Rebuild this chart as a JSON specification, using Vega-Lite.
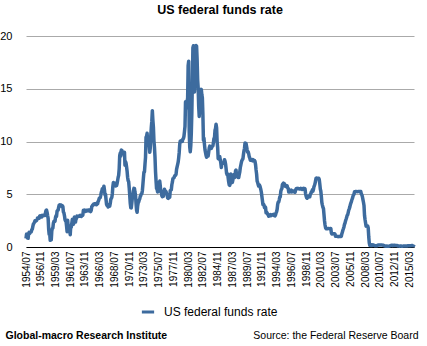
{
"$schema": "https://vega.github.io/schema/vega-lite/v6.json",
"width": 388, "height": 211,
"autosize": {"type": "none"},
"padding": {"left": 26, "top": 36, "right": 13, "bottom": 99},
"background": "white",
"config": {"font": "Liberation Sans", "view": {"stroke": null}},
"title": {"text": "US federal funds rate", "fontSize": 12.5, "fontWeight": "bold", "color": "#000", "anchor": "middle", "offset": 14},
"data": {"values": [
{"d":"1954-07-01","v":0.80},{"d":"1954-08-01","v":1.22},{"d":"1954-09-01","v":1.07},{"d":"1954-10-01","v":0.85},{"d":"1954-11-01","v":0.83},{"d":"1954-12-01","v":1.28},
{"d":"1955-01-01","v":1.39},{"d":"1955-02-01","v":1.29},{"d":"1955-03-01","v":1.35},{"d":"1955-04-01","v":1.43},{"d":"1955-05-01","v":1.43},{"d":"1955-06-01","v":1.64},{"d":"1955-07-01","v":1.68},{"d":"1955-08-01","v":1.96},{"d":"1955-09-01","v":2.18},{"d":"1955-10-01","v":2.24},{"d":"1955-11-01","v":2.35},{"d":"1955-12-01","v":2.48},
{"d":"1956-01-01","v":2.45},{"d":"1956-02-01","v":2.50},{"d":"1956-03-01","v":2.50},{"d":"1956-04-01","v":2.62},{"d":"1956-05-01","v":2.75},{"d":"1956-06-01","v":2.71},{"d":"1956-07-01","v":2.75},{"d":"1956-08-01","v":2.73},{"d":"1956-09-01","v":2.95},{"d":"1956-10-01","v":2.96},{"d":"1956-11-01","v":2.88},{"d":"1956-12-01","v":2.94},
{"d":"1957-01-01","v":2.84},{"d":"1957-02-01","v":3.00},{"d":"1957-03-01","v":2.96},{"d":"1957-04-01","v":3.00},{"d":"1957-05-01","v":3.00},{"d":"1957-06-01","v":3.00},{"d":"1957-07-01","v":2.99},{"d":"1957-08-01","v":3.24},{"d":"1957-09-01","v":3.47},{"d":"1957-10-01","v":3.50},{"d":"1957-11-01","v":3.28},{"d":"1957-12-01","v":2.98},
{"d":"1958-01-01","v":2.72},{"d":"1958-02-01","v":1.67},{"d":"1958-03-01","v":1.20},{"d":"1958-04-01","v":1.26},{"d":"1958-05-01","v":0.63},{"d":"1958-06-01","v":0.93},{"d":"1958-07-01","v":0.68},{"d":"1958-08-01","v":1.53},{"d":"1958-09-01","v":1.76},{"d":"1958-10-01","v":1.80},{"d":"1958-11-01","v":2.27},{"d":"1958-12-01","v":2.42},
{"d":"1959-01-01","v":2.48},{"d":"1959-02-01","v":2.43},{"d":"1959-03-01","v":2.80},{"d":"1959-04-01","v":2.96},{"d":"1959-05-01","v":2.90},{"d":"1959-06-01","v":3.39},{"d":"1959-07-01","v":3.47},{"d":"1959-08-01","v":3.50},{"d":"1959-09-01","v":3.76},{"d":"1959-10-01","v":3.98},{"d":"1959-11-01","v":4.00},{"d":"1959-12-01","v":3.99},
{"d":"1960-01-01","v":3.99},{"d":"1960-02-01","v":3.97},{"d":"1960-03-01","v":3.84},{"d":"1960-04-01","v":3.92},{"d":"1960-05-01","v":3.85},{"d":"1960-06-01","v":3.32},{"d":"1960-07-01","v":3.23},{"d":"1960-08-01","v":2.98},{"d":"1960-09-01","v":2.60},{"d":"1960-10-01","v":2.47},{"d":"1960-11-01","v":2.44},{"d":"1960-12-01","v":1.98},
{"d":"1961-01-01","v":1.45},{"d":"1961-02-01","v":2.54},{"d":"1961-03-01","v":2.02},{"d":"1961-04-01","v":1.49},{"d":"1961-05-01","v":1.98},{"d":"1961-06-01","v":1.73},{"d":"1961-07-01","v":1.17},{"d":"1961-08-01","v":2.00},{"d":"1961-09-01","v":1.88},{"d":"1961-10-01","v":2.26},{"d":"1961-11-01","v":2.62},{"d":"1961-12-01","v":2.33},
{"d":"1962-01-01","v":2.15},{"d":"1962-02-01","v":2.37},{"d":"1962-03-01","v":2.85},{"d":"1962-04-01","v":2.78},{"d":"1962-05-01","v":2.36},{"d":"1962-06-01","v":2.68},{"d":"1962-07-01","v":2.71},{"d":"1962-08-01","v":2.93},{"d":"1962-09-01","v":2.90},{"d":"1962-10-01","v":2.90},{"d":"1962-11-01","v":2.94},{"d":"1962-12-01","v":2.93},
{"d":"1963-01-01","v":2.92},{"d":"1963-02-01","v":3.00},{"d":"1963-03-01","v":2.98},{"d":"1963-04-01","v":2.90},{"d":"1963-05-01","v":3.00},{"d":"1963-06-01","v":2.99},{"d":"1963-07-01","v":3.02},{"d":"1963-08-01","v":3.49},{"d":"1963-09-01","v":3.48},{"d":"1963-10-01","v":3.50},{"d":"1963-11-01","v":3.48},{"d":"1963-12-01","v":3.38},
{"d":"1964-01-01","v":3.48},{"d":"1964-02-01","v":3.48},{"d":"1964-03-01","v":3.43},{"d":"1964-04-01","v":3.47},{"d":"1964-05-01","v":3.50},{"d":"1964-06-01","v":3.50},{"d":"1964-07-01","v":3.42},{"d":"1964-08-01","v":3.50},{"d":"1964-09-01","v":3.45},{"d":"1964-10-01","v":3.36},{"d":"1964-11-01","v":3.52},{"d":"1964-12-01","v":3.85},
{"d":"1965-01-01","v":3.90},{"d":"1965-02-01","v":3.98},{"d":"1965-03-01","v":4.04},{"d":"1965-04-01","v":4.09},{"d":"1965-05-01","v":4.10},{"d":"1965-06-01","v":4.04},{"d":"1965-07-01","v":4.09},{"d":"1965-08-01","v":4.12},{"d":"1965-09-01","v":4.01},{"d":"1965-10-01","v":4.08},{"d":"1965-11-01","v":4.10},{"d":"1965-12-01","v":4.32},
{"d":"1966-01-01","v":4.42},{"d":"1966-02-01","v":4.60},{"d":"1966-03-01","v":4.65},{"d":"1966-04-01","v":4.67},{"d":"1966-05-01","v":4.90},{"d":"1966-06-01","v":5.17},{"d":"1966-07-01","v":5.30},{"d":"1966-08-01","v":5.53},{"d":"1966-09-01","v":5.40},{"d":"1966-10-01","v":5.53},{"d":"1966-11-01","v":5.76},{"d":"1966-12-01","v":5.40},
{"d":"1967-01-01","v":4.94},{"d":"1967-02-01","v":5.00},{"d":"1967-03-01","v":4.53},{"d":"1967-04-01","v":4.05},{"d":"1967-05-01","v":3.94},{"d":"1967-06-01","v":3.98},{"d":"1967-07-01","v":3.79},{"d":"1967-08-01","v":3.90},{"d":"1967-09-01","v":3.99},{"d":"1967-10-01","v":3.88},{"d":"1967-11-01","v":4.13},{"d":"1967-12-01","v":4.51},
{"d":"1968-01-01","v":4.60},{"d":"1968-02-01","v":4.71},{"d":"1968-03-01","v":5.05},{"d":"1968-04-01","v":5.76},{"d":"1968-05-01","v":6.11},{"d":"1968-06-01","v":6.07},{"d":"1968-07-01","v":6.02},{"d":"1968-08-01","v":6.03},{"d":"1968-09-01","v":5.78},{"d":"1968-10-01","v":5.91},{"d":"1968-11-01","v":5.82},{"d":"1968-12-01","v":6.02},
{"d":"1969-01-01","v":6.30},{"d":"1969-02-01","v":6.61},{"d":"1969-03-01","v":6.79},{"d":"1969-04-01","v":7.41},{"d":"1969-05-01","v":8.67},{"d":"1969-06-01","v":8.90},{"d":"1969-07-01","v":8.61},{"d":"1969-08-01","v":9.19},{"d":"1969-09-01","v":9.15},{"d":"1969-10-01","v":9.00},{"d":"1969-11-01","v":8.85},{"d":"1969-12-01","v":8.97},
{"d":"1970-01-01","v":8.98},{"d":"1970-02-01","v":8.98},{"d":"1970-03-01","v":7.76},{"d":"1970-04-01","v":8.10},{"d":"1970-05-01","v":7.95},{"d":"1970-06-01","v":7.61},{"d":"1970-07-01","v":7.21},{"d":"1970-08-01","v":6.61},{"d":"1970-09-01","v":6.29},{"d":"1970-10-01","v":6.20},{"d":"1970-11-01","v":5.60},{"d":"1970-12-01","v":4.90},
{"d":"1971-01-01","v":4.14},{"d":"1971-02-01","v":3.72},{"d":"1971-03-01","v":3.71},{"d":"1971-04-01","v":4.16},{"d":"1971-05-01","v":4.63},{"d":"1971-06-01","v":4.91},{"d":"1971-07-01","v":5.31},{"d":"1971-08-01","v":5.56},{"d":"1971-09-01","v":5.55},{"d":"1971-10-01","v":5.20},{"d":"1971-11-01","v":4.91},{"d":"1971-12-01","v":4.14},
{"d":"1972-01-01","v":3.50},{"d":"1972-02-01","v":3.29},{"d":"1972-03-01","v":3.83},{"d":"1972-04-01","v":4.17},{"d":"1972-05-01","v":4.27},{"d":"1972-06-01","v":4.46},{"d":"1972-07-01","v":4.55},{"d":"1972-08-01","v":4.80},{"d":"1972-09-01","v":4.87},{"d":"1972-10-01","v":5.04},{"d":"1972-11-01","v":5.06},{"d":"1972-12-01","v":5.33},
{"d":"1973-01-01","v":5.94},{"d":"1973-02-01","v":6.58},{"d":"1973-03-01","v":7.09},{"d":"1973-04-01","v":7.12},{"d":"1973-05-01","v":7.84},{"d":"1973-06-01","v":8.49},{"d":"1973-07-01","v":10.40},{"d":"1973-08-01","v":10.50},{"d":"1973-09-01","v":10.78},{"d":"1973-10-01","v":10.01},{"d":"1973-11-01","v":10.03},{"d":"1973-12-01","v":9.95},
{"d":"1974-01-01","v":9.65},{"d":"1974-02-01","v":8.97},{"d":"1974-03-01","v":9.35},{"d":"1974-04-01","v":10.51},{"d":"1974-05-01","v":11.31},{"d":"1974-06-01","v":11.93},{"d":"1974-07-01","v":12.92},{"d":"1974-08-01","v":12.01},{"d":"1974-09-01","v":11.34},{"d":"1974-10-01","v":10.06},{"d":"1974-11-01","v":9.45},{"d":"1974-12-01","v":8.53},
{"d":"1975-01-01","v":7.13},{"d":"1975-02-01","v":6.24},{"d":"1975-03-01","v":5.54},{"d":"1975-04-01","v":5.49},{"d":"1975-05-01","v":5.22},{"d":"1975-06-01","v":5.55},{"d":"1975-07-01","v":6.10},{"d":"1975-08-01","v":6.14},{"d":"1975-09-01","v":6.24},{"d":"1975-10-01","v":5.82},{"d":"1975-11-01","v":5.22},{"d":"1975-12-01","v":5.20},
{"d":"1976-01-01","v":4.87},{"d":"1976-02-01","v":4.77},{"d":"1976-03-01","v":4.84},{"d":"1976-04-01","v":4.82},{"d":"1976-05-01","v":5.29},{"d":"1976-06-01","v":5.48},{"d":"1976-07-01","v":5.31},{"d":"1976-08-01","v":5.29},{"d":"1976-09-01","v":5.25},{"d":"1976-10-01","v":5.03},{"d":"1976-11-01","v":4.95},{"d":"1976-12-01","v":4.65},
{"d":"1977-01-01","v":4.61},{"d":"1977-02-01","v":4.68},{"d":"1977-03-01","v":4.69},{"d":"1977-04-01","v":4.73},{"d":"1977-05-01","v":5.35},{"d":"1977-06-01","v":5.39},{"d":"1977-07-01","v":5.42},{"d":"1977-08-01","v":5.90},{"d":"1977-09-01","v":6.14},{"d":"1977-10-01","v":6.47},{"d":"1977-11-01","v":6.51},{"d":"1977-12-01","v":6.56},
{"d":"1978-01-01","v":6.70},{"d":"1978-02-01","v":6.78},{"d":"1978-03-01","v":6.79},{"d":"1978-04-01","v":6.89},{"d":"1978-05-01","v":7.36},{"d":"1978-06-01","v":7.60},{"d":"1978-07-01","v":7.81},{"d":"1978-08-01","v":8.04},{"d":"1978-09-01","v":8.45},{"d":"1978-10-01","v":8.96},{"d":"1978-11-01","v":9.76},{"d":"1978-12-01","v":10.03},
{"d":"1979-01-01","v":10.07},{"d":"1979-02-01","v":10.06},{"d":"1979-03-01","v":10.09},{"d":"1979-04-01","v":10.01},{"d":"1979-05-01","v":10.24},{"d":"1979-06-01","v":10.29},{"d":"1979-07-01","v":10.47},{"d":"1979-08-01","v":10.94},{"d":"1979-09-01","v":11.43},{"d":"1979-10-01","v":13.77},{"d":"1979-11-01","v":13.18},{"d":"1979-12-01","v":13.78},
{"d":"1980-01-01","v":13.82},{"d":"1980-02-01","v":14.13},{"d":"1980-03-01","v":17.19},{"d":"1980-04-01","v":17.61},{"d":"1980-05-01","v":10.98},{"d":"1980-06-01","v":9.47},{"d":"1980-07-01","v":9.03},{"d":"1980-08-01","v":9.61},{"d":"1980-09-01","v":10.87},{"d":"1980-10-01","v":12.81},{"d":"1980-11-01","v":15.85},{"d":"1980-12-01","v":18.90},
{"d":"1981-01-01","v":19.08},{"d":"1981-02-01","v":15.93},{"d":"1981-03-01","v":14.70},{"d":"1981-04-01","v":15.72},{"d":"1981-05-01","v":18.52},{"d":"1981-06-01","v":19.10},{"d":"1981-07-01","v":19.04},{"d":"1981-08-01","v":17.82},{"d":"1981-09-01","v":15.87},{"d":"1981-10-01","v":15.08},{"d":"1981-11-01","v":13.31},{"d":"1981-12-01","v":12.37},
{"d":"1982-01-01","v":13.22},{"d":"1982-02-01","v":14.78},{"d":"1982-03-01","v":14.68},{"d":"1982-04-01","v":14.94},{"d":"1982-05-01","v":14.45},{"d":"1982-06-01","v":14.15},{"d":"1982-07-01","v":12.59},{"d":"1982-08-01","v":10.12},{"d":"1982-09-01","v":10.31},{"d":"1982-10-01","v":9.71},{"d":"1982-11-01","v":9.20},{"d":"1982-12-01","v":8.95},
{"d":"1983-01-01","v":8.68},{"d":"1983-02-01","v":8.51},{"d":"1983-03-01","v":8.77},{"d":"1983-04-01","v":8.80},{"d":"1983-05-01","v":8.63},{"d":"1983-06-01","v":8.98},{"d":"1983-07-01","v":9.37},{"d":"1983-08-01","v":9.56},{"d":"1983-09-01","v":9.45},{"d":"1983-10-01","v":9.48},{"d":"1983-11-01","v":9.34},{"d":"1983-12-01","v":9.47},
{"d":"1984-01-01","v":9.56},{"d":"1984-02-01","v":9.59},{"d":"1984-03-01","v":9.91},{"d":"1984-04-01","v":10.29},{"d":"1984-05-01","v":10.32},{"d":"1984-06-01","v":11.06},{"d":"1984-07-01","v":11.23},{"d":"1984-08-01","v":11.64},{"d":"1984-09-01","v":11.30},{"d":"1984-10-01","v":9.99},{"d":"1984-11-01","v":9.43},{"d":"1984-12-01","v":8.38},
{"d":"1985-01-01","v":8.35},{"d":"1985-02-01","v":8.50},{"d":"1985-03-01","v":8.58},{"d":"1985-04-01","v":8.27},{"d":"1985-05-01","v":7.97},{"d":"1985-06-01","v":7.53},{"d":"1985-07-01","v":7.88},{"d":"1985-08-01","v":7.90},{"d":"1985-09-01","v":7.92},{"d":"1985-10-01","v":7.99},{"d":"1985-11-01","v":8.05},{"d":"1985-12-01","v":8.27},
{"d":"1986-01-01","v":8.14},{"d":"1986-02-01","v":7.86},{"d":"1986-03-01","v":7.48},{"d":"1986-04-01","v":6.99},{"d":"1986-05-01","v":6.85},{"d":"1986-06-01","v":6.92},{"d":"1986-07-01","v":6.56},{"d":"1986-08-01","v":6.17},{"d":"1986-09-01","v":5.89},{"d":"1986-10-01","v":5.85},{"d":"1986-11-01","v":6.04},{"d":"1986-12-01","v":6.91},
{"d":"1987-01-01","v":6.43},{"d":"1987-02-01","v":6.10},{"d":"1987-03-01","v":6.13},{"d":"1987-04-01","v":6.37},{"d":"1987-05-01","v":6.85},{"d":"1987-06-01","v":6.73},{"d":"1987-07-01","v":6.58},{"d":"1987-08-01","v":6.73},{"d":"1987-09-01","v":7.22},{"d":"1987-10-01","v":7.29},{"d":"1987-11-01","v":6.69},{"d":"1987-12-01","v":6.77},
{"d":"1988-01-01","v":6.83},{"d":"1988-02-01","v":6.58},{"d":"1988-03-01","v":6.58},{"d":"1988-04-01","v":6.87},{"d":"1988-05-01","v":7.09},{"d":"1988-06-01","v":7.51},{"d":"1988-07-01","v":7.75},{"d":"1988-08-01","v":8.01},{"d":"1988-09-01","v":8.19},{"d":"1988-10-01","v":8.30},{"d":"1988-11-01","v":8.35},{"d":"1988-12-01","v":8.76},
{"d":"1989-01-01","v":9.12},{"d":"1989-02-01","v":9.36},{"d":"1989-03-01","v":9.85},{"d":"1989-04-01","v":9.84},{"d":"1989-05-01","v":9.81},{"d":"1989-06-01","v":9.53},{"d":"1989-07-01","v":9.24},{"d":"1989-08-01","v":8.99},{"d":"1989-09-01","v":9.02},{"d":"1989-10-01","v":8.84},{"d":"1989-11-01","v":8.55},{"d":"1989-12-01","v":8.45},
{"d":"1990-01-01","v":8.23},{"d":"1990-02-01","v":8.24},{"d":"1990-03-01","v":8.28},{"d":"1990-04-01","v":8.26},{"d":"1990-05-01","v":8.18},{"d":"1990-06-01","v":8.29},{"d":"1990-07-01","v":8.15},{"d":"1990-08-01","v":8.13},{"d":"1990-09-01","v":8.20},{"d":"1990-10-01","v":8.11},{"d":"1990-11-01","v":7.81},{"d":"1990-12-01","v":7.31},
{"d":"1991-01-01","v":6.91},{"d":"1991-02-01","v":6.25},{"d":"1991-03-01","v":6.12},{"d":"1991-04-01","v":5.91},{"d":"1991-05-01","v":5.78},{"d":"1991-06-01","v":5.90},{"d":"1991-07-01","v":5.82},{"d":"1991-08-01","v":5.66},{"d":"1991-09-01","v":5.45},{"d":"1991-10-01","v":5.21},{"d":"1991-11-01","v":4.81},{"d":"1991-12-01","v":4.43},
{"d":"1992-01-01","v":4.03},{"d":"1992-02-01","v":4.06},{"d":"1992-03-01","v":3.98},{"d":"1992-04-01","v":3.73},{"d":"1992-05-01","v":3.82},{"d":"1992-06-01","v":3.76},{"d":"1992-07-01","v":3.25},{"d":"1992-08-01","v":3.30},{"d":"1992-09-01","v":3.22},{"d":"1992-10-01","v":3.10},{"d":"1992-11-01","v":3.09},{"d":"1992-12-01","v":2.92},
{"d":"1993-01-01","v":3.02},{"d":"1993-02-01","v":3.03},{"d":"1993-03-01","v":3.07},{"d":"1993-04-01","v":2.96},{"d":"1993-05-01","v":3.00},{"d":"1993-06-01","v":3.04},{"d":"1993-07-01","v":3.06},{"d":"1993-08-01","v":3.03},{"d":"1993-09-01","v":3.09},{"d":"1993-10-01","v":2.99},{"d":"1993-11-01","v":3.02},{"d":"1993-12-01","v":2.96},
{"d":"1994-01-01","v":3.05},{"d":"1994-02-01","v":3.25},{"d":"1994-03-01","v":3.34},{"d":"1994-04-01","v":3.56},{"d":"1994-05-01","v":4.01},{"d":"1994-06-01","v":4.25},{"d":"1994-07-01","v":4.26},{"d":"1994-08-01","v":4.47},{"d":"1994-09-01","v":4.73},{"d":"1994-10-01","v":4.76},{"d":"1994-11-01","v":5.29},{"d":"1994-12-01","v":5.45},
{"d":"1995-01-01","v":5.53},{"d":"1995-02-01","v":5.92},{"d":"1995-03-01","v":5.98},{"d":"1995-04-01","v":6.05},{"d":"1995-05-01","v":6.01},{"d":"1995-06-01","v":6.00},{"d":"1995-07-01","v":5.85},{"d":"1995-08-01","v":5.74},{"d":"1995-09-01","v":5.80},{"d":"1995-10-01","v":5.76},{"d":"1995-11-01","v":5.80},{"d":"1995-12-01","v":5.60},
{"d":"1996-01-01","v":5.56},{"d":"1996-02-01","v":5.22},{"d":"1996-03-01","v":5.31},{"d":"1996-04-01","v":5.22},{"d":"1996-05-01","v":5.24},{"d":"1996-06-01","v":5.27},{"d":"1996-07-01","v":5.40},{"d":"1996-08-01","v":5.22},{"d":"1996-09-01","v":5.30},{"d":"1996-10-01","v":5.24},{"d":"1996-11-01","v":5.31},{"d":"1996-12-01","v":5.29},
{"d":"1997-01-01","v":5.25},{"d":"1997-02-01","v":5.19},{"d":"1997-03-01","v":5.39},{"d":"1997-04-01","v":5.51},{"d":"1997-05-01","v":5.50},{"d":"1997-06-01","v":5.56},{"d":"1997-07-01","v":5.52},{"d":"1997-08-01","v":5.54},{"d":"1997-09-01","v":5.54},{"d":"1997-10-01","v":5.50},{"d":"1997-11-01","v":5.52},{"d":"1997-12-01","v":5.50},
{"d":"1998-01-01","v":5.56},{"d":"1998-02-01","v":5.51},{"d":"1998-03-01","v":5.49},{"d":"1998-04-01","v":5.45},{"d":"1998-05-01","v":5.49},{"d":"1998-06-01","v":5.56},{"d":"1998-07-01","v":5.54},{"d":"1998-08-01","v":5.55},{"d":"1998-09-01","v":5.51},{"d":"1998-10-01","v":5.07},{"d":"1998-11-01","v":4.83},{"d":"1998-12-01","v":4.68},
{"d":"1999-01-01","v":4.63},{"d":"1999-02-01","v":4.76},{"d":"1999-03-01","v":4.81},{"d":"1999-04-01","v":4.74},{"d":"1999-05-01","v":4.74},{"d":"1999-06-01","v":4.76},{"d":"1999-07-01","v":4.99},{"d":"1999-08-01","v":5.07},{"d":"1999-09-01","v":5.22},{"d":"1999-10-01","v":5.20},{"d":"1999-11-01","v":5.42},{"d":"1999-12-01","v":5.30},
{"d":"2000-01-01","v":5.45},{"d":"2000-02-01","v":5.73},{"d":"2000-03-01","v":5.85},{"d":"2000-04-01","v":6.02},{"d":"2000-05-01","v":6.27},{"d":"2000-06-01","v":6.53},{"d":"2000-07-01","v":6.54},{"d":"2000-08-01","v":6.50},{"d":"2000-09-01","v":6.52},{"d":"2000-10-01","v":6.51},{"d":"2000-11-01","v":6.51},{"d":"2000-12-01","v":6.40},
{"d":"2001-01-01","v":5.98},{"d":"2001-02-01","v":5.49},{"d":"2001-03-01","v":5.31},{"d":"2001-04-01","v":4.80},{"d":"2001-05-01","v":4.21},{"d":"2001-06-01","v":3.97},{"d":"2001-07-01","v":3.77},{"d":"2001-08-01","v":3.65},{"d":"2001-09-01","v":3.07},{"d":"2001-10-01","v":2.49},{"d":"2001-11-01","v":2.09},{"d":"2001-12-01","v":1.82},
{"d":"2002-01-01","v":1.73},{"d":"2002-02-01","v":1.74},{"d":"2002-03-01","v":1.73},{"d":"2002-04-01","v":1.75},{"d":"2002-05-01","v":1.75},{"d":"2002-06-01","v":1.75},{"d":"2002-07-01","v":1.73},{"d":"2002-08-01","v":1.74},{"d":"2002-09-01","v":1.75},{"d":"2002-10-01","v":1.75},{"d":"2002-11-01","v":1.34},{"d":"2002-12-01","v":1.24},
{"d":"2003-01-01","v":1.24},{"d":"2003-02-01","v":1.26},{"d":"2003-03-01","v":1.25},{"d":"2003-04-01","v":1.26},{"d":"2003-05-01","v":1.26},{"d":"2003-06-01","v":1.22},{"d":"2003-07-01","v":1.01},{"d":"2003-08-01","v":1.03},{"d":"2003-09-01","v":1.01},{"d":"2003-10-01","v":1.01},{"d":"2003-11-01","v":1.00},{"d":"2003-12-01","v":0.98},
{"d":"2004-01-01","v":1.00},{"d":"2004-02-01","v":1.01},{"d":"2004-03-01","v":1.00},{"d":"2004-04-01","v":1.00},{"d":"2004-05-01","v":1.00},{"d":"2004-06-01","v":1.03},{"d":"2004-07-01","v":1.26},{"d":"2004-08-01","v":1.43},{"d":"2004-09-01","v":1.61},{"d":"2004-10-01","v":1.76},{"d":"2004-11-01","v":1.93},{"d":"2004-12-01","v":2.16},
{"d":"2005-01-01","v":2.28},{"d":"2005-02-01","v":2.50},{"d":"2005-03-01","v":2.63},{"d":"2005-04-01","v":2.79},{"d":"2005-05-01","v":3.00},{"d":"2005-06-01","v":3.04},{"d":"2005-07-01","v":3.26},{"d":"2005-08-01","v":3.50},{"d":"2005-09-01","v":3.62},{"d":"2005-10-01","v":3.78},{"d":"2005-11-01","v":4.00},{"d":"2005-12-01","v":4.16},
{"d":"2006-01-01","v":4.29},{"d":"2006-02-01","v":4.49},{"d":"2006-03-01","v":4.59},{"d":"2006-04-01","v":4.79},{"d":"2006-05-01","v":4.94},{"d":"2006-06-01","v":4.99},{"d":"2006-07-01","v":5.24},{"d":"2006-08-01","v":5.25},{"d":"2006-09-01","v":5.25},{"d":"2006-10-01","v":5.25},{"d":"2006-11-01","v":5.25},{"d":"2006-12-01","v":5.24},
{"d":"2007-01-01","v":5.25},{"d":"2007-02-01","v":5.26},{"d":"2007-03-01","v":5.26},{"d":"2007-04-01","v":5.25},{"d":"2007-05-01","v":5.25},{"d":"2007-06-01","v":5.25},{"d":"2007-07-01","v":5.26},{"d":"2007-08-01","v":5.02},{"d":"2007-09-01","v":4.94},{"d":"2007-10-01","v":4.76},{"d":"2007-11-01","v":4.49},{"d":"2007-12-01","v":4.24},
{"d":"2008-01-01","v":3.94},{"d":"2008-02-01","v":2.98},{"d":"2008-03-01","v":2.61},{"d":"2008-04-01","v":2.28},{"d":"2008-05-01","v":1.98},{"d":"2008-06-01","v":2.00},{"d":"2008-07-01","v":2.01},{"d":"2008-08-01","v":2.00},{"d":"2008-09-01","v":1.81},{"d":"2008-10-01","v":0.97},{"d":"2008-11-01","v":0.39},{"d":"2008-12-01","v":0.16},
{"d":"2009-01-01","v":0.15},{"d":"2009-02-01","v":0.22},{"d":"2009-03-01","v":0.18},{"d":"2009-04-01","v":0.15},{"d":"2009-05-01","v":0.18},{"d":"2009-06-01","v":0.21},{"d":"2009-07-01","v":0.16},{"d":"2009-08-01","v":0.16},{"d":"2009-09-01","v":0.15},{"d":"2009-10-01","v":0.12},{"d":"2009-11-01","v":0.12},{"d":"2009-12-01","v":0.12},
{"d":"2010-01-01","v":0.11},{"d":"2010-02-01","v":0.13},{"d":"2010-03-01","v":0.16},{"d":"2010-04-01","v":0.20},{"d":"2010-05-01","v":0.20},{"d":"2010-06-01","v":0.18},{"d":"2010-07-01","v":0.18},{"d":"2010-08-01","v":0.19},{"d":"2010-09-01","v":0.19},{"d":"2010-10-01","v":0.19},{"d":"2010-11-01","v":0.19},{"d":"2010-12-01","v":0.18},
{"d":"2011-01-01","v":0.17},{"d":"2011-02-01","v":0.16},{"d":"2011-03-01","v":0.14},{"d":"2011-04-01","v":0.10},{"d":"2011-05-01","v":0.09},{"d":"2011-06-01","v":0.09},{"d":"2011-07-01","v":0.07},{"d":"2011-08-01","v":0.10},{"d":"2011-09-01","v":0.08},{"d":"2011-10-01","v":0.07},{"d":"2011-11-01","v":0.08},{"d":"2011-12-01","v":0.07},
{"d":"2012-01-01","v":0.08},{"d":"2012-02-01","v":0.10},{"d":"2012-03-01","v":0.13},{"d":"2012-04-01","v":0.14},{"d":"2012-05-01","v":0.16},{"d":"2012-06-01","v":0.16},{"d":"2012-07-01","v":0.16},{"d":"2012-08-01","v":0.13},{"d":"2012-09-01","v":0.14},{"d":"2012-10-01","v":0.16},{"d":"2012-11-01","v":0.16},{"d":"2012-12-01","v":0.16},
{"d":"2013-01-01","v":0.14},{"d":"2013-02-01","v":0.15},{"d":"2013-03-01","v":0.14},{"d":"2013-04-01","v":0.15},{"d":"2013-05-01","v":0.11},{"d":"2013-06-01","v":0.09},{"d":"2013-07-01","v":0.09},{"d":"2013-08-01","v":0.08},{"d":"2013-09-01","v":0.08},{"d":"2013-10-01","v":0.09},{"d":"2013-11-01","v":0.08},{"d":"2013-12-01","v":0.09},
{"d":"2014-01-01","v":0.07},{"d":"2014-02-01","v":0.07},{"d":"2014-03-01","v":0.08},{"d":"2014-04-01","v":0.09},{"d":"2014-05-01","v":0.09},{"d":"2014-06-01","v":0.10},{"d":"2014-07-01","v":0.09},{"d":"2014-08-01","v":0.09},{"d":"2014-09-01","v":0.09},{"d":"2014-10-01","v":0.09},{"d":"2014-11-01","v":0.09},{"d":"2014-12-01","v":0.12},
{"d":"2015-01-01","v":0.11},{"d":"2015-02-01","v":0.11},{"d":"2015-03-01","v":0.11},{"d":"2015-04-01","v":0.12},{"d":"2015-05-01","v":0.12},{"d":"2015-06-01","v":0.13},{"d":"2015-07-01","v":0.13},{"d":"2015-08-01","v":0.14},{"d":"2015-09-01","v":0.14},{"d":"2015-10-01","v":0.12},{"d":"2015-11-01","v":0.12},{"d":"2015-12-01","v":0.24}
]},
"mark": {"type": "line", "strokeWidth": 3.5, "strokeJoin": "round", "clip": false},
"encoding": {
"x": {"field": "d", "type": "temporal",
  "scale": {"type": "utc", "domain": [{"year":1954,"month":7,"date":1,"utc":true},{"year":2015,"month":12,"date":1,"utc":true}], "nice": false},
  "axis": {
    "values": [
      {"year":1954,"month":7,"date":1,"utc":true},{"year":1956,"month":11,"date":1,"utc":true},{"year":1959,"month":3,"date":1,"utc":true},{"year":1961,"month":7,"date":1,"utc":true},{"year":1963,"month":11,"date":1,"utc":true},{"year":1966,"month":3,"date":1,"utc":true},{"year":1968,"month":7,"date":1,"utc":true},{"year":1970,"month":11,"date":1,"utc":true},{"year":1973,"month":3,"date":1,"utc":true},{"year":1975,"month":7,"date":1,"utc":true},{"year":1977,"month":11,"date":1,"utc":true},{"year":1980,"month":3,"date":1,"utc":true},{"year":1982,"month":7,"date":1,"utc":true},{"year":1984,"month":11,"date":1,"utc":true},{"year":1987,"month":3,"date":1,"utc":true},{"year":1989,"month":7,"date":1,"utc":true},{"year":1991,"month":11,"date":1,"utc":true},{"year":1994,"month":3,"date":1,"utc":true},{"year":1996,"month":7,"date":1,"utc":true},{"year":1998,"month":11,"date":1,"utc":true},{"year":2001,"month":3,"date":1,"utc":true},{"year":2003,"month":7,"date":1,"utc":true},{"year":2005,"month":11,"date":1,"utc":true},{"year":2008,"month":3,"date":1,"utc":true},{"year":2010,"month":7,"date":1,"utc":true},{"year":2012,"month":11,"date":1,"utc":true},{"year":2015,"month":3,"date":1,"utc":true}
    ],
    "labelExpr": "utcFormat(datum.value, '%Y/%m')",
    "labelAngle": -90, "labelFontSize": 10, "labelColor": "#000", "labelPadding": 4, "labelOverlap": false, "labelFlush": false,
    "ticks": false, "grid": false, "domainColor": "#000", "domainWidth": 1,
    "title": "Source: the Federal Reserve Board", "titleFontSize": 10.5, "titleFontWeight": "normal", "titleColor": "#000",
    "titleAnchor": "end", "titleAlign": "right", "titleBaseline": "alphabetic", "titleX": 392, "titleY": 91
  }},
"y": {"field": "v", "type": "quantitative",
  "scale": {"domain": [0, 20], "nice": false},
  "axis": {"values": [0,5,10,15,20], "labelFontSize": 11, "labelColor": "#000", "labelPadding": 14, "ticks": false, "domain": false,
    "gridColor": "#aaaaaa", "gridWidth": 1,
    "title": "Global-macro Research Institute", "titleFontSize": 10.5, "titleFontWeight": "bold", "titleColor": "#000",
    "titleAngle": 0, "titleAlign": "left", "titleBaseline": "alphabetic", "titleAnchor": "start", "titleX": -21, "titleY": 302}},
"color": {"datum": "US federal funds rate", "type": "nominal",
  "scale": {"range": ["#3d6b9e"]},
  "legend": {"title": null, "orient": "none", "legendX": 114, "legendY": 268, "symbolType": "stroke", "symbolStrokeWidth": 3, "symbolSize": 150, "labelFontSize": 12, "labelColor": "#000", "labelOffset": 8}}
}
}
